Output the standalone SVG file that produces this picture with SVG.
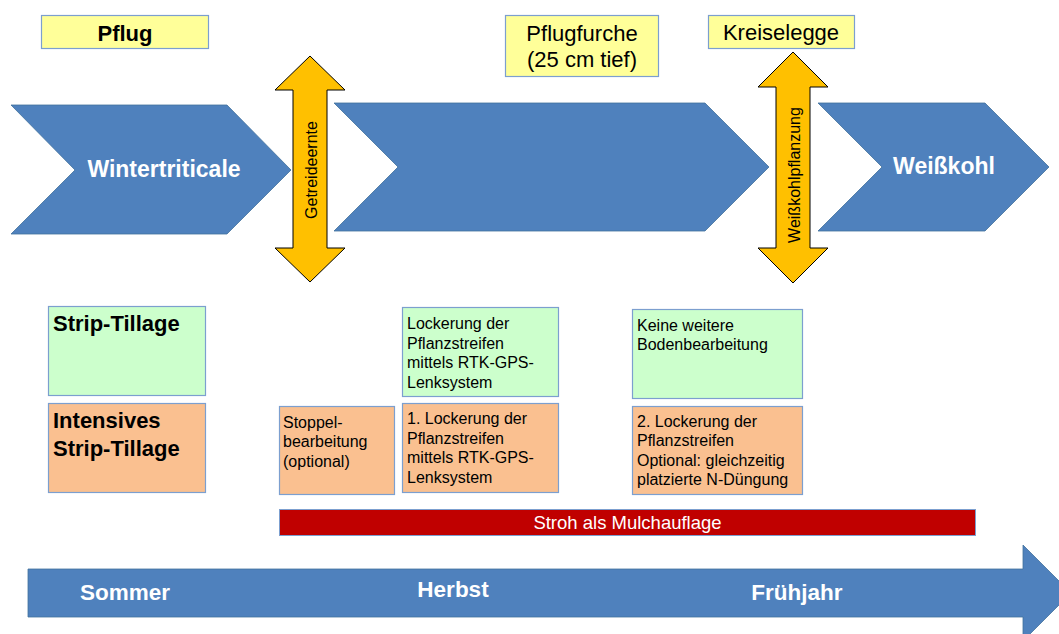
<svg xmlns="http://www.w3.org/2000/svg" width="1059" height="634" viewBox="0 0 1059 634">
<style>
.blue{fill:#4F81BD;stroke:#41719C;stroke-width:0.8}
.orangearrow{fill:#FFC000;stroke:#000;stroke-width:1}
.title{fill:#FFFF99;stroke:#7C9FCF;stroke-width:1.2}
.green{fill:#CCFFCC;stroke:#7C9FCF;stroke-width:1.2}
.orange{fill:#FAC090;stroke:#7C9FCF;stroke-width:1.2}
.red{fill:#C00000;stroke:#7C9FCF;stroke-width:1}
text{font-family:"Liberation Sans",Arial,sans-serif}
.t22{font-size:22px;fill:#000}
.b22{font-size:22px;font-weight:bold;fill:#000}
.w23{font-size:23px;font-weight:bold;fill:#fff}
.w22{font-size:22.5px;font-weight:bold;fill:#fff}
.s{font-size:16px;fill:#000}
.v{font-size:16px;fill:#000}
</style>
<rect width="1059" height="634" fill="#fff"/>

<g id="timeline">
<path class="blue" d="M28,569 L1023,569 L1023,545 L1071,593 L1023,641 L1023,617 L28,617 Z"/>
<text class="w22" x="125" y="600" text-anchor="middle">Sommer</text>
<text class="w22" x="453" y="597" text-anchor="middle">Herbst</text>
<text class="w22" x="797" y="600" text-anchor="middle">Frühjahr</text>
</g>

<g id="chevron-wintertriticale">
<path class="blue" d="M11,105 L227,105 L291,170 L227,234 L11,234 L75,170 Z"/>
<text class="w23" x="164" y="177" text-anchor="middle">Wintertriticale</text>
</g>
<g id="chevron-middle">
<path class="blue" d="M334,103 L705,103 L769,167 L705,231 L334,231 L398,167 Z"/>
</g>
<g id="chevron-weisskohl">
<path class="blue" d="M818,103 L985,103 L1049,167 L985,231 L818,231 L882,167 Z"/>
<text class="w23" x="944" y="174" text-anchor="middle">Weißkohl</text>
</g>

<g id="arrow-getreideernte">
<path class="orangearrow" d="M310,56 L345,90 L327,90 L327,248 L345,248 L310,282 L275,248 L293,248 L293,90 L275,90 Z"/>
<text class="v" transform="translate(317,170) rotate(-90)" text-anchor="middle">Getreideernte</text>
</g>
<g id="arrow-weisskohlpflanzung">
<path class="orangearrow" d="M793,52 L828,87 L810,87 L810,248 L828,248 L793,283 L758,248 L776,248 L776,87 L758,87 Z"/>
<text class="v" transform="translate(800,175) rotate(-90)" text-anchor="middle">Weißkohlpflanzung</text>
</g>

<g id="box-pflug">
<rect class="title" x="41.5" y="15.5" width="167" height="33"/>
<text class="b22" x="125" y="41" text-anchor="middle">Pflug</text>
</g>
<g id="box-pflugfurche">
<rect class="title" x="505.5" y="15.5" width="153" height="61"/>
<text class="t22" x="582" y="41" text-anchor="middle">Pflugfurche</text>
<text class="t22" x="582" y="67" text-anchor="middle">(25 cm tief)</text>
</g>
<g id="box-kreiselegge">
<rect class="title" x="708.5" y="15.5" width="146" height="33"/>
<text class="t22" x="781" y="40" text-anchor="middle">Kreiselegge</text>
</g>

<g id="label-strip-tillage">
<rect class="green" x="48.5" y="306.5" width="157" height="89"/>
<text class="b22" x="53" y="331">Strip-Tillage</text>
</g>
<g id="label-intensives">
<rect class="orange" x="48.5" y="403.5" width="157" height="89"/>
<text class="b22" x="53" y="428">Intensives</text>
<text class="b22" x="53" y="456">Strip-Tillage</text>
</g>

<g id="box-stoppel">
<rect class="orange" x="279.5" y="406.5" width="115" height="88"/>
<text class="s" x="283" y="427.5">Stoppel-</text>
<text class="s" x="283" y="447">bearbeitung</text>
<text class="s" x="283" y="466.5">(optional)</text>
</g>

<g id="box-lockerung-green">
<rect class="green" x="402.5" y="307.5" width="156" height="89"/>
<text class="s" x="407" y="329">Lockerung der</text>
<text class="s" x="407" y="348.5">Pflanzstreifen</text>
<text class="s" x="407" y="368">mittels RTK-GPS-</text>
<text class="s" x="407" y="387.5">Lenksystem</text>
</g>
<g id="box-lockerung-orange">
<rect class="orange" x="402.5" y="403.5" width="156" height="89"/>
<text class="s" x="407" y="424">1. Lockerung der</text>
<text class="s" x="407" y="443.5">Pflanzstreifen</text>
<text class="s" x="407" y="463">mittels RTK-GPS-</text>
<text class="s" x="407" y="482.5">Lenksystem</text>
</g>

<g id="box-keine-green">
<rect class="green" x="632.5" y="309.5" width="170" height="89"/>
<text class="s" x="637" y="331">Keine weitere</text>
<text class="s" x="637" y="350">Bodenbearbeitung</text>
</g>
<g id="box-lockerung2-orange">
<rect class="orange" x="632.5" y="406.5" width="170" height="88"/>
<text class="s" x="637" y="426.5">2. Lockerung der</text>
<text class="s" x="637" y="446">Pflanzstreifen</text>
<text class="s" x="637" y="465.5">Optional: gleichzeitig</text>
<text class="s" x="637" y="485">platzierte N-Düngung</text>
</g>

<g id="bar-stroh">
<rect class="red" x="279.5" y="509.5" width="696" height="26"/>
<text x="627.5" y="529" text-anchor="middle" style="font-size:18.5px;fill:#fff">Stroh als Mulchauflage</text>
</g>

<g id="connectors"></g>
</svg>
